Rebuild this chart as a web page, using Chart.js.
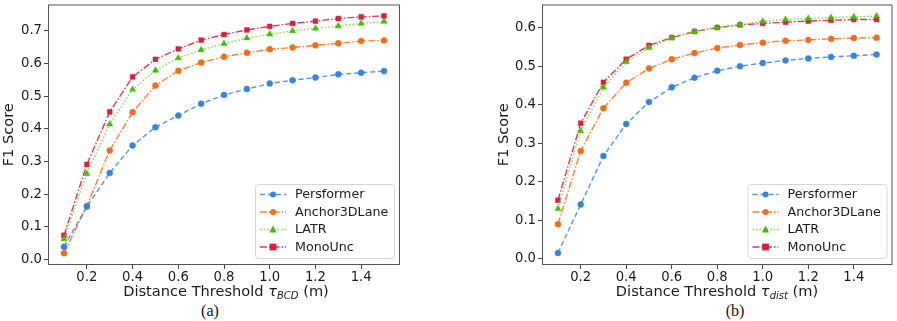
<!DOCTYPE html>
<html>
<head>
<meta charset="utf-8">
<script src="https://cdn.jsdelivr.net/npm/chart.js@4.4.1/dist/chart.umd.min.js"></script>
<style>
  body { margin: 0; background: #fff; width: 897px; height: 321px; position: relative; overflow: hidden; font-family: 'DejaVu Sans', sans-serif; }
  .wrap { position: absolute; top: 0; }
  .xt { position: absolute; font-size: 14.6px; color: #1a1a1a; white-space: nowrap; transform: translateX(-50%); }
  .xt sub { font-size: 10px; font-style: italic; vertical-align: -3px; }
  .cap { position: absolute; font-family: 'Liberation Serif', serif; font-size: 16px; color: #111; transform: translateX(-50%); }
</style>
</head>
<body>
<div class="wrap" style="left:0;width:450px;height:285px"><canvas id="chartA"></canvas></div>
<div class="wrap" style="left:495px;width:402px;height:285px"><canvas id="chartB"></canvas></div>
<div class="xt" style="left:226px;top:282px">Distance Threshold <i>τ</i><sub>BCD</sub> (m)</div>
<div class="xt" style="left:717px;top:282px">Distance Threshold <i>τ</i><sub>dist</sub> (m)</div>
<div class="cap" style="left:210px;top:302px">(a)</div>
<div class="cap" style="left:735px;top:302px">(b)</div>
<script>
const thresholds = [0.1, 0.2, 0.3, 0.4, 0.5, 0.6, 0.7, 0.8, 0.9, 1.0, 1.1, 1.2, 1.3, 1.4, 1.5];
const methods = ['Persformer', 'Anchor3DLane', 'LATR', 'MonoUnc'];

// (a) tau_BCD
const persformerA = [0.039, 0.162, 0.265, 0.349, 0.405, 0.441, 0.477, 0.504, 0.522, 0.539, 0.549, 0.557, 0.567, 0.572, 0.577];
const anchorA     = [0.019, 0.164, 0.334, 0.451, 0.533, 0.578, 0.603, 0.621, 0.633, 0.644, 0.649, 0.656, 0.662, 0.669, 0.671];
const latrA       = [0.063, 0.263, 0.414, 0.521, 0.579, 0.617, 0.642, 0.661, 0.678, 0.690, 0.700, 0.708, 0.715, 0.723, 0.729];
const monoA       = [0.074, 0.291, 0.452, 0.559, 0.613, 0.645, 0.672, 0.689, 0.703, 0.714, 0.723, 0.730, 0.738, 0.743, 0.746];

// (b) tau_dist
const persformerB = [0.015, 0.141, 0.267, 0.350, 0.407, 0.445, 0.470, 0.488, 0.500, 0.508, 0.515, 0.520, 0.524, 0.527, 0.530];
const anchorB     = [0.090, 0.280, 0.391, 0.457, 0.494, 0.518, 0.534, 0.547, 0.555, 0.561, 0.566, 0.568, 0.571, 0.573, 0.574];
const latrB       = [0.130, 0.332, 0.445, 0.511, 0.548, 0.573, 0.590, 0.600, 0.608, 0.616, 0.621, 0.624, 0.626, 0.628, 0.630];
const monoB       = [0.152, 0.352, 0.458, 0.518, 0.554, 0.574, 0.590, 0.600, 0.607, 0.611, 0.614, 0.617, 0.619, 0.621, 0.621];

const styles = [
  { line: 'rgba(53,132,228,0.85)', mark: '#3584e4', dash: [5, 3], point: 'circle', r: 3 },
  { line: 'rgba(255,106,26,0.85)', mark: '#ff6a1a', dash: [7, 2, 1.5, 2], point: 'circle', r: 3 },
  { line: 'rgba(110,220,60,0.9)', mark: '#3fbf00', dash: [1.5, 2], point: 'triangle', r: 3.6 },
  { line: 'rgba(220,20,60,0.85)', mark: '#dc1e3c', dash: [7, 2, 1.5, 2], point: 'rect', r: 3.4 }
];

function drawMarker(ctx, style, x, y) {
  ctx.save();
  ctx.fillStyle = style.mark;
  ctx.beginPath();
  if (style.point === 'circle') {
    ctx.arc(x, y, style.r, 0, Math.PI * 2);
  } else if (style.point === 'rect') {
    ctx.rect(x - style.r, y - style.r, style.r * 2, style.r * 2);
  } else {
    ctx.moveTo(x, y - style.r * 1.1);
    ctx.lineTo(x + style.r, y + style.r * 0.8);
    ctx.lineTo(x - style.r, y + style.r * 0.8);
    ctx.closePath();
  }
  ctx.fill();
  ctx.restore();
}

// frame around the plot + legend box in lower right, matplotlib style
const framePlugin = {
  id: 'frame',
  afterDatasetsDraw(chart) {
    const { ctx, chartArea: a } = chart;
    ctx.save();
    ctx.strokeStyle = '#555';
    ctx.lineWidth = 1;
    ctx.strokeRect(a.left + 0.5, a.top + 0.5, a.right - a.left - 1, a.bottom - a.top - 1);

    const w = 139, h = 74;
    const bx = a.right - 6 - w, by = a.bottom - 7 - h;
    ctx.fillStyle = 'rgba(255,255,255,0.85)';
    ctx.strokeStyle = '#d6d6d6';
    ctx.beginPath();
    ctx.roundRect(bx + 0.5, by + 0.5, w, h, 3);
    ctx.fill();
    ctx.stroke();

    ctx.font = '12.7px "DejaVu Sans"';
    ctx.textBaseline = 'middle';
    chart.data.datasets.forEach((ds, i) => {
      const st = styles[i];
      const y = by + 10.5 + i * 17.5;
      ctx.strokeStyle = st.line;
      ctx.lineWidth = 1.3;
      ctx.setLineDash(st.dash);
      ctx.beginPath();
      ctx.moveTo(bx + 5, y);
      ctx.lineTo(bx + 31, y);
      ctx.stroke();
      ctx.setLineDash([]);
      drawMarker(ctx, st, bx + 18, y);
      ctx.fillStyle = '#1a1a1a';
      ctx.fillText(ds.label, bx + 40, y + 0.5);
    });
    ctx.restore();
  }
};

function makeChart(id, series, yMin, yMax, yWidth, padRight) {
  const ctx = document.getElementById(id).getContext('2d');
  return new Chart(ctx, {
    type: 'line',
    data: {
      datasets: series.map((vals, i) => ({
        label: methods[i],
        data: thresholds.map((x, j) => ({ x, y: vals[j] })),
        borderColor: styles[i].line,
        borderWidth: 1.4,
        borderDash: styles[i].dash,
        pointStyle: styles[i].point,
        pointRadius: styles[i].r,
        pointBackgroundColor: styles[i].mark,
        pointBorderColor: styles[i].mark,
        pointBorderWidth: 0.5,
        tension: 0,
        clip: false
      }))
    },
    options: {
      responsive: true,
      maintainAspectRatio: false,
      animation: false,
      layout: { padding: { top: 3, right: padRight, bottom: 0, left: 0 } },
      plugins: { legend: { display: false }, tooltip: { enabled: false } },
      scales: {
        x: {
          type: 'linear',
          min: 0.03, max: 1.57,
          afterFit: s => { s.height = 20; s.paddingLeft = 0; s.paddingRight = 0; },
          border: { display: false },
          grid: { drawOnChartArea: false, tickLength: 4, color: '#444' },
          ticks: { stepSize: 0.2, includeBounds: false, padding: 1, color: '#1a1a1a', font: { family: 'DejaVu Sans', size: 13.2 }, maxRotation: 0, callback: v => v.toFixed(1) }
        },
        y: {
          min: yMin, max: yMax,
          afterFit: s => { s.width = yWidth; s.paddingTop = 0; s.paddingBottom = 0; },
          border: { display: false },
          grid: { drawOnChartArea: false, tickLength: 4, color: '#444' },
          ticks: { stepSize: 0.1, includeBounds: false, padding: 2, color: '#1a1a1a', font: { family: 'DejaVu Sans', size: 13.2 }, callback: v => v.toFixed(1) },
          title: { display: true, text: 'F1 Score', color: '#1a1a1a', padding: 0, font: { family: 'DejaVu Sans', size: 14.6 } }
        }
      }
    },
    plugins: [framePlugin]
  });
}

makeChart('chartA', [persformerA, anchorA, latrA, monoA], -0.017, 0.781, 48, 50);
makeChart('chartB', [persformerB, anchorB, latrB, monoB], -0.016, 0.660, 47, 4);
</script>
</body>
</html>
